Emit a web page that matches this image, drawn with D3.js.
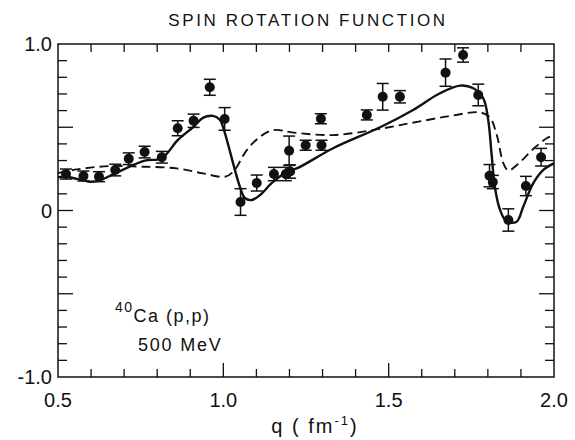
<!DOCTYPE html>
<html>
<head>
    <title>Spin rotation function</title>
    <script src="https://d3js.org/d3.v7.min.js"></script>
    <style>
        body { margin: 0; background: white; }
        text { font-family: "Liberation Sans", Arial, sans-serif; fill: #111; }
        .frame { fill: none; stroke: #111; stroke-width: 1.5px; }
        .tick { stroke: #111; stroke-width: 1.3px; }
        .solid { fill: none; stroke: #111; stroke-width: 2.4px; }
        .dashed { fill: none; stroke: #111; stroke-width: 1.9px; stroke-dasharray: 9,5; }
        .err { stroke: #111; stroke-width: 1.5px; }
        .dot { fill: #111; }
    </style>
</head>
<body>
<script>
    // measured points
    var qData = [0.524, 0.577, 0.624, 0.673, 0.714, 0.762, 0.814, 0.862, 0.910, 0.959,
                 1.004, 1.052, 1.101, 1.153, 1.199, 1.189, 1.202, 1.249, 1.297, 1.295,
                 1.434, 1.482, 1.534, 1.672, 1.725, 1.771, 1.805, 1.815, 1.862, 1.915, 1.961];
    var spinData = [0.219, 0.207, 0.203, 0.243, 0.311, 0.351, 0.320, 0.494, 0.539, 0.740,
                    0.550, 0.051, 0.165, 0.219, 0.359, 0.219, 0.234, 0.392, 0.392, 0.551,
                    0.574, 0.683, 0.683, 0.828, 0.934, 0.694, 0.209, 0.171, -0.057, 0.147, 0.320];
    var errData = [0.03, 0.03, 0.03, 0.035, 0.035, 0.035, 0.035, 0.045, 0.04, 0.048,
                   0.068, 0.08, 0.048, 0.04, 0.088, 0.04, 0.04, 0.03, 0.03, 0.03,
                   0.03, 0.08, 0.037, 0.082, 0.043, 0.065, 0.067, 0.04, 0.067, 0.058, 0.053];

    // solid curve
    var solidQ = [0.5, 0.526, 0.597, 0.624, 0.673, 0.762, 0.814, 0.862, 0.910, 0.938, 0.969,
                  0.990, 1.002, 1.050, 1.065, 1.086, 1.111, 1.151, 1.202, 1.222, 1.332, 1.474,
                  1.574, 1.655, 1.716, 1.756, 1.786, 1.801, 1.811, 1.821, 1.837, 1.857, 1.887,
                  1.907, 1.937, 1.967, 2.0];
    var solidV = [0.20, 0.203, 0.173, 0.179, 0.223, 0.299, 0.314, 0.423, 0.503, 0.556, 0.568,
                  0.544, 0.483, 0.143, 0.075, 0.063, 0.093, 0.173, 0.243, 0.253, 0.374, 0.500,
                  0.604, 0.704, 0.750, 0.734, 0.674, 0.544, 0.344, 0.143, 0.003, -0.067, -0.067,
                  0.023, 0.163, 0.243, 0.283];

    // dashed curve
    var dashQ = [0.5, 0.557, 0.657, 0.758, 0.859, 0.939, 1.005, 1.030, 1.071, 1.111, 1.151,
                 1.212, 1.332, 1.453, 1.564, 1.679, 1.776, 1.806, 1.827, 1.847, 1.862, 1.891,
                 1.942, 1.978, 2.0];
    var dashV = [0.225, 0.247, 0.267, 0.263, 0.253, 0.223, 0.203, 0.233, 0.363, 0.443, 0.483,
                 0.468, 0.453, 0.483, 0.524, 0.565, 0.589, 0.559, 0.453, 0.283, 0.240, 0.279,
                 0.378, 0.434, 0.453];

    var xTickLabels = ["0.5", "1.0", "1.5", "2.0"];
    var yTickLabels = ["-1.0", "0", "1.0"];

    var width = 575, height = 440;
    var plotLeft = 58, plotRight = 554, plotTop = 44, plotBottom = 377;

    var svg = d3.select("body").append("svg")
        .attr("width", width)
        .attr("height", height);

    var x = d3.scaleLinear().domain([0.5, 2.0]).range([plotLeft, plotRight]);
    var y = d3.scaleLinear().domain([-1.0, 1.0]).range([plotBottom, plotTop]);

    svg.append("rect")
        .attr("class", "frame")
        .attr("x", plotLeft).attr("y", plotTop)
        .attr("width", plotRight - plotLeft).attr("height", plotBottom - plotTop);

    // inward ticks on all four sides, every 0.1, longer at 0.5 steps
    var xt = d3.range(6, 20).map(d => d / 10);
    var yt = d3.range(-9, 10).map(d => d / 10);
    function isMajor(v) { return Math.abs(v * 2 - Math.round(v * 2)) < 1e-6; }

    var ticks = svg.append("g");
    xt.forEach(function(v) {
        var len = isMajor(v) ? 14 : 8;
        ticks.append("line").attr("class", "tick")
            .attr("x1", x(v)).attr("x2", x(v)).attr("y1", plotBottom).attr("y2", plotBottom - len);
        ticks.append("line").attr("class", "tick")
            .attr("x1", x(v)).attr("x2", x(v)).attr("y1", plotTop).attr("y2", plotTop + 8);
    });
    yt.forEach(function(v) {
        var len = isMajor(v) ? 15 : 9;
        ticks.append("line").attr("class", "tick")
            .attr("x1", plotLeft).attr("x2", plotLeft + len).attr("y1", y(v)).attr("y2", y(v));
        ticks.append("line").attr("class", "tick")
            .attr("x1", plotRight).attr("x2", plotRight - len).attr("y1", y(v)).attr("y2", y(v));
    });

    svg.append("g").selectAll("text")
        .data(xTickLabels)
        .enter().append("text")
        .attr("x", d => x(+d))
        .attr("y", 407)
        .attr("text-anchor", "middle")
        .style("font-size", "20px")
        .text(d => d);

    svg.append("g").selectAll("text")
        .data(yTickLabels)
        .enter().append("text")
        .attr("x", plotLeft - 6)
        .attr("y", d => y(+d) + 7)
        .attr("text-anchor", "end")
        .style("font-size", "20px")
        .text(d => d);

    // title
    svg.append("text")
        .attr("x", 308).attr("y", 26)
        .attr("text-anchor", "middle")
        .style("font-size", "17px")
        .style("letter-spacing", "2.6px")
        .text("SPIN ROTATION FUNCTION");

    // x axis title
    var xl = svg.append("text")
        .attr("x", 315).attr("y", 433)
        .attr("text-anchor", "middle")
        .style("font-size", "20px")
        .style("letter-spacing", "2px");
    xl.append("tspan").text("q ( fm");
    xl.append("tspan").attr("dy", -8).style("font-size", "13px").text("-1");
    xl.append("tspan").attr("dy", 8).text(")");

    // annotation
    var t1 = svg.append("text")
        .attr("x", 115).attr("y", 322)
        .style("font-size", "18px")
        .style("letter-spacing", "1.5px");
    t1.append("tspan").attr("dy", -10).style("font-size", "14px").text("40");
    t1.append("tspan").attr("dy", 10).text("Ca (p,p)");
    svg.append("text")
        .attr("x", 138).attr("y", 351)
        .style("font-size", "18px")
        .style("letter-spacing", "1.8px")
        .text("500 MeV");

    // curves
    var line = d3.line()
        .x(d => x(d[0]))
        .y(d => y(d[1]))
        .curve(d3.curveCatmullRom.alpha(0.5));

    svg.append("path")
        .attr("class", "dashed")
        .attr("d", line(d3.zip(dashQ, dashV)));

    svg.append("path")
        .attr("class", "solid")
        .attr("d", line(d3.zip(solidQ, solidV)));

    // data points with error bars
    var pts = d3.range(qData.length).map(i => ({q: qData[i], v: spinData[i], e: errData[i]}));
    var g = svg.append("g").selectAll("g")
        .data(pts)
        .enter().append("g");

    g.append("line").attr("class", "err")
        .attr("x1", d => x(d.q)).attr("x2", d => x(d.q))
        .attr("y1", d => y(d.v - d.e)).attr("y2", d => y(d.v + d.e));
    g.append("line").attr("class", "err")
        .attr("x1", d => x(d.q) - 6).attr("x2", d => x(d.q) + 6)
        .attr("y1", d => y(d.v + d.e)).attr("y2", d => y(d.v + d.e));
    g.append("line").attr("class", "err")
        .attr("x1", d => x(d.q) - 6).attr("x2", d => x(d.q) + 6)
        .attr("y1", d => y(d.v - d.e)).attr("y2", d => y(d.v - d.e));
    g.append("circle").attr("class", "dot")
        .attr("cx", d => x(d.q))
        .attr("cy", d => y(d.v))
        .attr("r", 5);
</script>
</body>
</html>
